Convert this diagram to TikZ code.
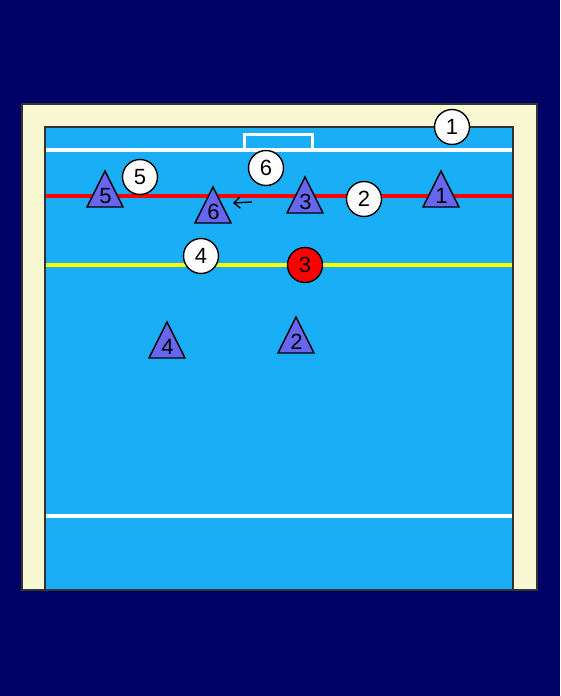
\documentclass[tikz,border=0pt]{standalone}
\usepackage{fontspec}
\setmainfont{Liberation Sans}
\usetikzlibrary{arrows.meta}
\definecolor{navy}{RGB}{0,0,102}
\definecolor{pool}{RGB}{26,174,247}
\definecolor{cream}{RGB}{248,248,210}
\definecolor{tri}{RGB}{102,102,240}
\definecolor{ylw}{RGB}{255,255,0}
\begin{document}
\begin{tikzpicture}[x=1pt,y=-1pt,
  lab/.style={font=\fontsize{22}{26}\selectfont, inner sep=0pt},
  wcirc/.style={circle, draw=black, line width=1.4pt, fill=white, minimum size=35pt, inner sep=0pt, font=\fontsize{22}{26}\selectfont},
  rcirc/.style={wcirc, fill=red},
  trishape/.style={draw=black, line width=1.4pt, fill=tri}]
\useasboundingbox (0,0) rectangle (560,696);
\fill[navy] (0,0) rectangle (560,696);
\draw[fill=cream, line width=1.8pt, draw=black!80] (22,104) rectangle (537,590);
\draw[fill=pool, line width=1.8pt, draw=black!80] (45,127) rectangle (513,590);
% lines
\draw[white, line width=3.5pt] (46,150) -- (512,150);
\draw[white, line width=3pt] (244,150) -- (244,134) -- (312,134) -- (312,150);
\draw[red, line width=3.5pt] (46,196) -- (512,196);
\draw[ylw, line width=3.5pt] (46,265) -- (512,265);
\draw[white, line width=3.5pt] (46,516) -- (512,516);
% triangles (defenders)
\foreach \n/\x/\y in {5/105/171, 6/213/187, 3/305/177, 1/441/171, 4/167/322, 2/296/317}{
  \draw[trishape] (\x,\y) -- (\x+18,\y+36) -- (\x-18,\y+36) -- cycle;
  \node[lab] (d\n) at (\x+0.5,\y+25) {\n};
}
% attackers
\node[wcirc] (a1) at (452,127) {1};
\node[wcirc] (a5) at (140,177) {5};
\node[wcirc] (a6) at (266,168) {6};
\node[wcirc] (a2) at (364,199) {2};
\node[wcirc] (a4) at (201,256) {4};
\node[rcirc] (a3) at (305,265) {3};
% arrow
\coordinate (arrS) at (252,202);
\coordinate (arrE) at (233,203);
\draw[line width=1.4pt, -{Straight Barb[length=6pt, width=11pt]}] (arrS) -- (arrE);
\end{tikzpicture}
\end{document}
